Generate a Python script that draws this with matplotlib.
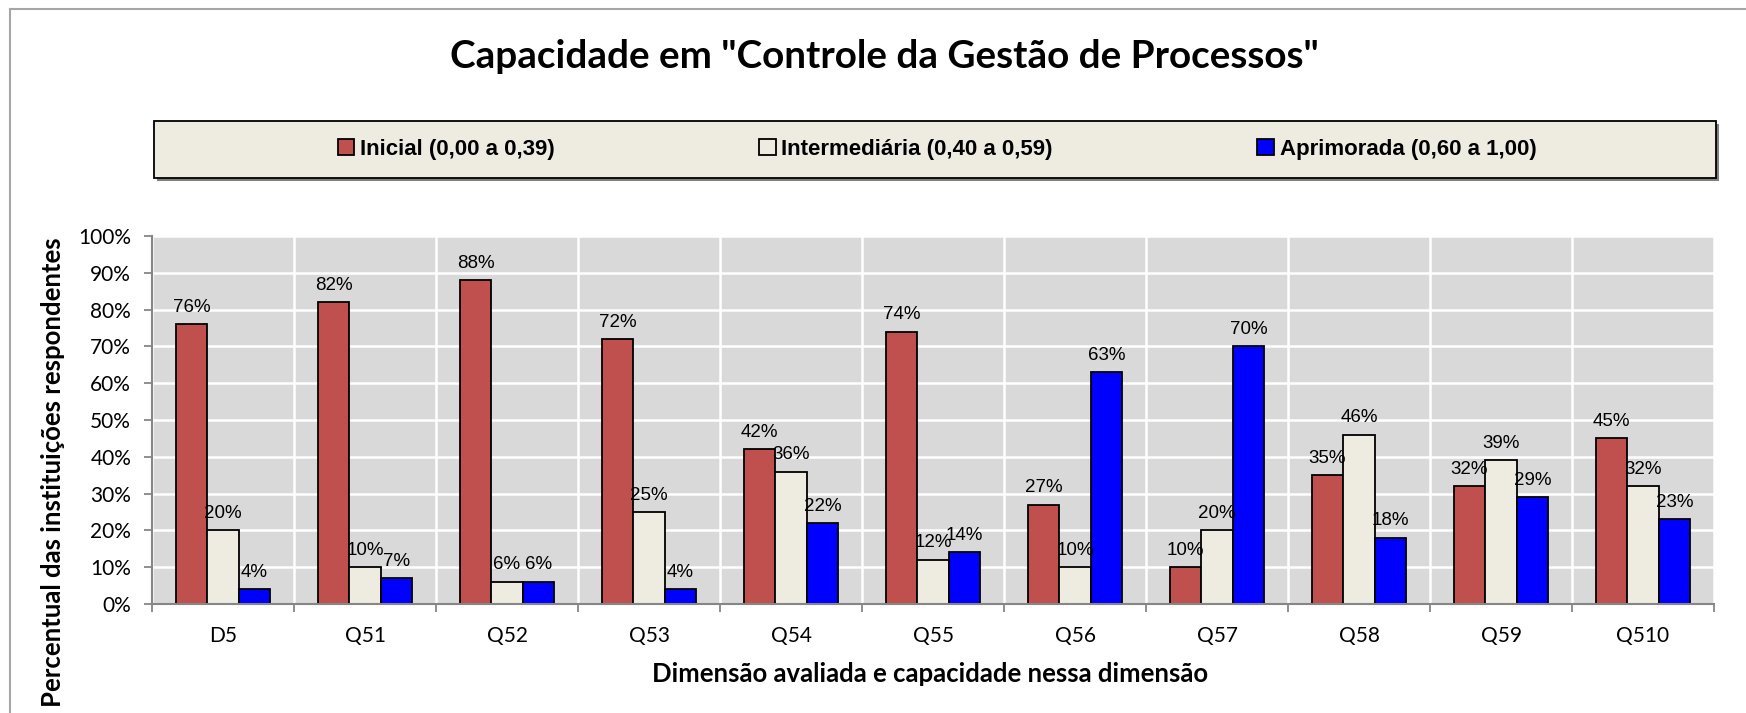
import matplotlib.pyplot as plt
from matplotlib.patches import Rectangle
from matplotlib.lines import Line2D
import numpy as np

categories = ["D5", "Q51", "Q52", "Q53", "Q54", "Q55", "Q56", "Q57", "Q58", "Q59", "Q510"]
inicial = [76, 82, 88, 72, 42, 74, 27, 10, 35, 32, 45]
intermediaria = [20, 10, 6, 25, 36, 12, 10, 20, 46, 39, 32]
aprimorada = [4, 7, 6, 4, 22, 14, 63, 70, 18, 29, 23]
series_names = ["Inicial (0,00 a 0,39)", "Intermediária (0,40 a 0,59)", "Aprimorada (0,60 a 1,00)"]
colors = ["#C0504D", "#EEECE1", "#0000FF"]

W, H = 1746, 713
fig = plt.figure(figsize=(W / 100, H / 100), dpi=100)

# moldura cinza do grafico (so topo e esquerda aparecem)
fig.add_artist(Line2D([10 / W, 10 / W], [0, 1 - 9 / H], color="#A6A6A6", lw=1.5))
fig.add_artist(Line2D([10 / W, 1], [1 - 9 / H, 1 - 9 / H], color="#A6A6A6", lw=1.5))

ax = fig.add_axes([152 / W, 1 - 604 / H, (1714 - 152) / W, (604 - 236) / H])
ax.set_facecolor("#D9D9D9")

x = np.arange(len(categories))
w = 0.222
all_series = [inicial, intermediaria, aprimorada]
handles = []
for i, vals in enumerate(all_series):
    bars = ax.bar(x + (i - 1) * w, vals, w, color=colors[i], edgecolor="black",
                  linewidth=1.3, label=series_names[i], zorder=3)
    handles.append(bars)
    for xi, v in zip(x + (i - 1) * w, vals):
        ax.annotate(f"{v}%", (xi, v), xytext=(0, 9), textcoords="offset points",
                    ha="center", va="baseline", fontsize=13.5,
                    family="Liberation Sans", zorder=4)

ax.set_xlim(-0.5, len(categories) - 0.5)
ax.set_ylim(0, 100)
ax.set_yticks(np.arange(0, 101, 10))
ax.set_yticklabels([f"{t}%" for t in range(0, 101, 10)], family="Lato", fontsize=15)
ax.set_xticks(x)
ax.set_xticklabels(categories, family="Lato", fontsize=15)
ax.set_xticks(np.arange(-0.5, len(categories)), minor=True)
ax.tick_params(axis="x", which="major", length=0, pad=16)
ax.tick_params(axis="x", which="minor", length=6, width=1.3, color="#868686")
ax.tick_params(axis="y", length=6, width=1.3, color="#868686", pad=9)

ax.grid(axis="y", which="major", color="white", lw=1.8, zorder=1)
ax.grid(axis="x", which="minor", color="white", lw=1.8, zorder=1)
for s in ["top", "right"]:
    ax.spines[s].set_visible(False)
for s in ["left", "bottom"]:
    ax.spines[s].set_color("#868686")
    ax.spines[s].set_linewidth(1.5)
    ax.spines[s].set_zorder(5)

fig.text(884 / W, 1 - 56 / H, 'Capacidade em "Controle da Gestão de Processos"',
         ha="center", va="center", fontsize=27.8, fontweight="bold", family="Lato")
fig.text(930 / W, 1 - 674 / H, "Dimensão avaliada e capacidade nessa dimensão",
         ha="center", va="center", fontsize=18.5, fontweight="bold", family="Lato")
fig.text(53 / W, 1 - 237 / H, "Percentual das instituições respondentes", rotation=90,
         ha="center", va="top", fontsize=18.5, fontweight="bold", family="Lato")

# caixa da legenda com sombra
fig.add_artist(Rectangle((157 / W, 1 - 181 / H), (1716 - 154) / W, (178 - 121) / H,
                         transform=fig.transFigure, facecolor="#808080", edgecolor="none"))
fig.add_artist(Rectangle((154 / W, 1 - 178 / H), (1716 - 154) / W, (178 - 121) / H,
                         transform=fig.transFigure, facecolor="#EEECE1", edgecolor="black",
                         lw=1.3))
fig.legend(handles=handles, loc="center", bbox_to_anchor=(937 / W, 1 - 149.5 / H), ncol=3,
           frameon=False, columnspacing=9.2, handlelength=0.75, handleheight=0.75,
           handletextpad=0.25, prop={"family": ["Liberation Sans Narrow", "Liberation Sans"],
                                     "weight": "bold", "size": 16})

fig.savefig("out.png", dpi=100)
